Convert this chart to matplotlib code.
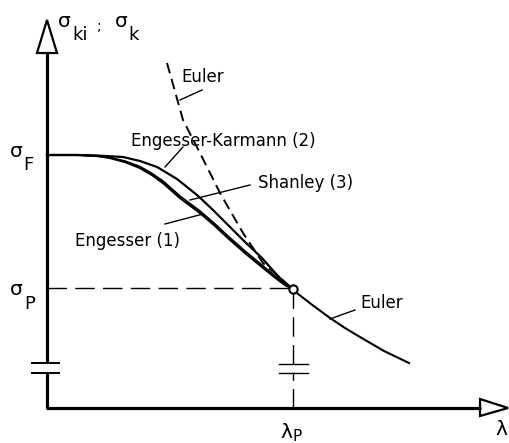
import matplotlib
matplotlib.use("Agg")
import matplotlib.pyplot as plt
from matplotlib.patches import Polygon

plt.rcParams["font.family"] = ["DejaVu Sans"]

# values (arbitrary units, origin at the axes corner)
sigma_F = 253
sigma_P = 119
lam_P = 246

lam_karmann = [0, 30, 50, 76, 93, 110, 130, 150, 165, 181, 198, 215, 230, 238, 246]
sigma_karmann = [253, 253, 252.5, 251, 247, 241, 229, 213, 199, 183, 166, 150, 133, 125, 119]
lam_engesser = [0, 30, 50, 63, 78, 93, 105, 116, 133, 153, 167, 181, 198, 215, 230, 238, 246]
sigma_engesser = [253, 253, 252, 250, 246, 240, 233, 225, 210, 195, 183, 170, 155, 141, 129, 123, 119]
sigma_shanley = [253, 253, 252, 250.5, 247, 241.5, 234.5, 227, 212, 197, 185, 172, 157, 143, 130.5, 124, 119]

lam_euler_dash = [120, 136, 155, 173, 196, 216, 246]
sigma_euler_dash = [345, 288, 251, 215, 175, 145, 119]
lam_euler = [246, 264, 283, 298, 313, 337, 362]
sigma_euler = [118, 104, 90, 80, 71, 57, 45]

fig = plt.figure(figsize=(5.09, 4.43), dpi=100)
ax = fig.add_axes([0, 0, 1, 1])
ax.set_xlim(-47, 462)
ax.set_ylim(-35, 408)
ax.axis("off")

# axes with hollow arrow heads
ax.plot([0, 0], [0, 36], color="black", lw=2.3, solid_capstyle="butt")
ax.plot([0, 0], [45, 356], color="black", lw=2.3, solid_capstyle="butt")
ax.plot([-1, 434], [0, 0], color="black", lw=2.3, solid_capstyle="butt")
ax.add_patch(Polygon([[-10, 355], [10, 355], [0, 388]], closed=True,
                     fc="white", ec="black", lw=1.6))
ax.add_patch(Polygon([[433, 9], [433, -8], [461, 0]], closed=True,
                     fc="white", ec="black", lw=1.6))
# axis break marks
for yb in (35, 45):
    ax.plot([-15, 12], [yb, yb], color="black", lw=1.4)

# reference dashed lines
ax.plot([0, lam_P - 4], [sigma_P + 1, sigma_P + 1], color="black", lw=1.0,
        linestyle=(0, (14, 6)))
ax.plot([lam_P, lam_P], [0, 36], color="black", lw=1.0, linestyle=(0, (14, 6)))
ax.plot([lam_P, lam_P], [44, sigma_P - 4], color="black", lw=1.0,
        linestyle=(0, (14, 6)))
for yb in (35, 44):
    ax.plot([lam_P - 14, lam_P + 15], [yb, yb], color="black", lw=1.0)

# curves
ax.plot(lam_euler_dash, sigma_euler_dash, color="black", lw=1.4,
        linestyle=(0, (5.5, 3)))
ax.plot(lam_karmann, sigma_karmann, color="black", lw=1.6)
ax.plot(lam_engesser, sigma_shanley, color="black", lw=1.2)
ax.plot(lam_engesser, sigma_engesser, color="black", lw=1.6)
ax.plot(lam_euler, sigma_euler, color="black", lw=1.5)
ax.plot([lam_P], [sigma_P], "o", ms=6, mfc="white", mec="black", mew=1.5)

# leader lines
leaders = [
    ([155, 133], [318, 308]),
    ([136, 118], [261, 241]),
    ([203, 143], [223, 208]),
    ([118, 156], [184, 194]),
    ([308, 283], [98, 89]),
]
for lx, ly in leaders:
    ax.plot(lx, ly, color="black", lw=1.0)

fs = 12
ax.text(134, 331, "Euler", fontsize=fs, va="center", ha="left")
ax.text(84, 267, "Engesser-Karmann (2)", fontsize=fs, va="center", ha="left")
ax.text(211, 225, "Shanley (3)", fontsize=fs, va="center", ha="left")
ax.text(28, 167, "Engesser (1)", fontsize=fs, va="center", ha="left")
ax.text(313, 105, "Euler", fontsize=fs, va="center", ha="left")

# symbols with large subscripts, placed by baseline
sym = 14.5
subs = 13
ax.text(-37, 251, "σ", fontsize=sym, va="baseline")
ax.text(-24, 238, "F", fontsize=subs, va="baseline")
ax.text(-37, 113, "σ", fontsize=sym, va="baseline")
ax.text(-23, 99, "P", fontsize=subs, va="baseline")
ax.text(11, 381, "σ", fontsize=sym, va="baseline")
ax.text(25, 368, "ki", fontsize=subs, va="baseline")
ax.text(50, 378, ";", fontsize=10, va="baseline")
ax.text(68, 381, "σ", fontsize=sym, va="baseline")
ax.text(81, 368, "k", fontsize=subs, va="baseline")
ax.text(233, -30, "λ", fontsize=sym, va="baseline")
ax.text(246, -33, "P", fontsize=11, va="baseline")
ax.text(448, -27, "λ", fontsize=sym, va="baseline")

fig.savefig("out.png", dpi=100)
